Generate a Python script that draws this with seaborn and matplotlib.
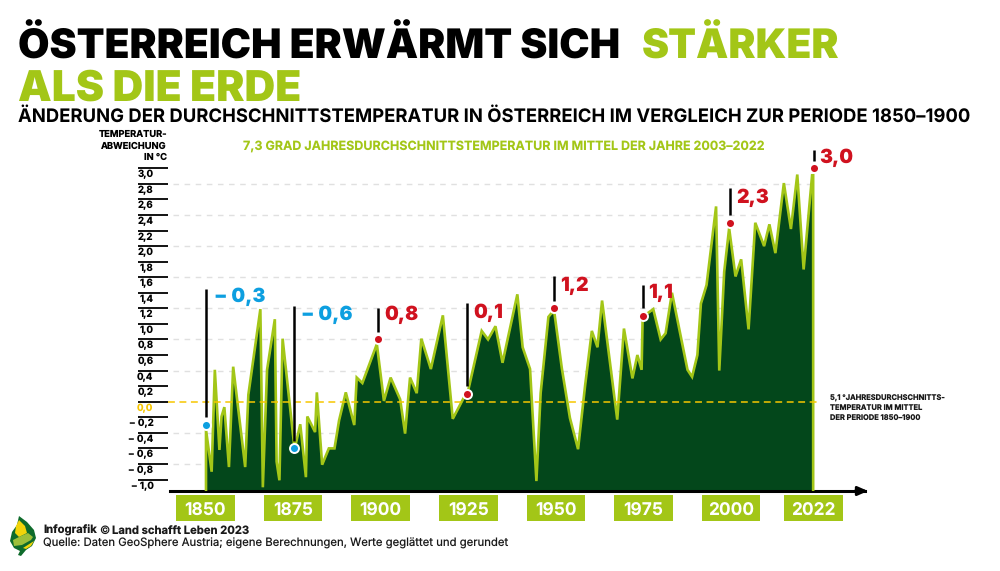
"""
plot.py
Oesterreich warming chart, temperature deviation against 1850-1900.
"""

import matplotlib.pyplot as plt
from matplotlib.patches import Polygon, Rectangle
from matplotlib.transforms import ScaledTranslation
import seaborn as sns

# Temperature curve. The original curve is not spaced
# evenly in years, so the positions are fractional years.
curve_years = [
    1850.0, 1851.6, 1852.5, 1853.8, 1854.4, 1855.2, 1856.5, 1857.7, 1861.1, 1862.0,
    1865.4, 1866.1, 1867.3, 1869.5, 1870.0, 1870.8, 1871.7, 1874.9, 1875.4, 1876.7,
    1878.3, 1878.7, 1880.9, 1881.4, 1882.9, 1884.8, 1886.4, 1887.7, 1889.6, 1892.0,
    1892.7, 1894.3, 1898.4, 1900.4, 1902.3, 1905.0, 1906.4, 1907.8, 1909.7, 1911.0,
    1913.7, 1917.1, 1919.9, 1922.9, 1924.3, 1928.1, 1929.9, 1932.0, 1934.0, 1938.2,
    1939.7, 1941.8, 1943.6, 1944.8, 1947.0, 1947.9, 1948.7, 1950.8, 1953.1, 1955.4,
    1957.4, 1959.3, 1960.9, 1962.2, 1966.5, 1968.4, 1970.8, 1972.2, 1973.4, 1973.7,
    1976.7, 1978.8, 1980.2, 1982.0, 1986.4, 1987.7, 1989.2, 1990.2, 1991.8, 1994.5,
    1995.4, 1996.8, 1998.2, 2000.0, 2001.6, 2003.7, 2005.6, 2008.1, 2009.6, 2011.3,
    2013.7, 2015.7, 2017.5, 2019.3, 2021.7, 2022.0,
]
curve_values = [
    -0.36, -0.90, 0.41, -0.62, -0.19, -0.07, -0.84, 0.45, -0.84, 0.09,
    1.19, -1.10, 0.41, 1.06, -0.77, -1.01, 0.81, -0.53, -0.55, -0.29,
    -0.97, -0.19, -0.39, 0.12, -0.81, -0.60, -0.60, -0.24, 0.12, -0.30,
    0.31, 0.24, 0.74, 0.01, 0.31, 0.03, -0.41, 0.31, 0.11, 0.81,
    0.42, 1.11, -0.22, 0.04, 0.15, 0.91, 0.80, 0.97, 0.50, 1.38,
    0.70, 0.42, -1.02, 0.11, 1.09, 1.14, 1.14, 0.43, -0.21, -0.61,
    0.21, 0.91, 0.70, 1.30, -0.23, 0.94, 0.30, 0.60, 0.41, 1.09,
    1.19, 0.80, 0.88, 1.40, 0.41, 0.32, 0.60, 1.26, 1.50, 2.51,
    0.40, 1.67, 2.23, 1.61, 1.83, 0.93, 2.30, 2.00, 2.28, 1.91,
    2.81, 2.22, 2.92, 1.70, 2.91, 2.91,
]

# Highlighted years
marker_years = [1850, 1875, 1898.7, 1923.9, 1948.6, 1973.8, 1998.4, 2022.1]
marker_values = [-0.3, -0.6, 0.8, 0.1, 1.2, 1.1, 2.3, 3.0]
stem_tops = [1.45, 1.23, 1.21, 1.27, 1.61, 1.50, 2.75, 3.23]

box_years = [1849.8, 1874.7, 1899.5, 1924.3, 1949.1, 1973.9, 1998.7, 2022.1]
box_labels = ["1850", "1875", "1900", "1925", "1950", "1975", "2000", "2022"]

y_ticks = [-1.0, -0.8, -0.6, -0.4, -0.2, 0.0, 0.2, 0.4, 0.6, 0.8, 1.0,
           1.2, 1.4, 1.6, 1.8, 2.0, 2.2, 2.4, 2.6, 2.8, 3.0]
grid_levels = [-0.8, -0.4, 0.4, 0.8, 1.2, 1.6, 2.0, 2.4, 2.8]

GREEN = "#a3c617"
DARK = "#03471b"
RED = "#d0121f"
BLUE = "#0d9fe0"
YELLOW = "#f7c600"
FONT = "Inter"

X0, Y0 = 206, 401.7    # pixel of 1850 / 0.0
X_SCALE, Y_SCALE = 3.53, 77.8    # pixels per year / per degree


def fmt(value):
    text = f"{abs(value):.1f}".replace(".", ",")
    return f"− {text}" if value < 0 else text


sns.set_theme(style="white")
plt.rcParams["font.family"] = [FONT, "DejaVu Sans"]
plt.rcParams["text.hinting"] = "no_hinting"
plt.rcParams["text.hinting_factor"] = 1

fig = plt.figure(figsize=(10, 5.71), dpi=100)

# overlay in pixels for the free text and the logo
page = fig.add_axes([0, 0, 1, 1], zorder=5)
page.set_xlim(0, 1000)
page.set_ylim(571, 0)
page.axis("off")

# main axes, placed so that the pixel scale above holds
left, right, top, bottom = 168, 865, 150, 491
ax = fig.add_axes([left / 1000, 1 - bottom / 571, (right - left) / 1000, (bottom - top) / 571])
ax.set_xlim(1850 + (left - X0) / X_SCALE, 1850 + (right - X0) / X_SCALE)
ax.set_ylim((Y0 - bottom) / Y_SCALE, (Y0 - top) / Y_SCALE)
y_floor = ax.get_ylim()[0]

ax.hlines(grid_levels, 1840.6, 2023.2, color="#e0e0e0", lw=1, linestyles=(0, (4, 4)), zorder=1)

ax.fill_between(curve_years, curve_values, y_floor, color=DARK, lw=0, zorder=2)
line_x = [curve_years[0]] + curve_years + [curve_years[-1]]
line_y = [y_floor] + curve_values + [y_floor]
sns.lineplot(x=line_x, y=line_y, sort=False, estimator=None, color=GREEN, lw=1.9, ax=ax,
             zorder=3, solid_joinstyle="miter")

# zero line
ax.hlines(0, ax.get_xlim()[0], 2023.4, color=YELLOW, lw=1.1, linestyles=(0, (4.5, 3)), zorder=4)

# ticks: long black dashes with the label hanging under them
for side in ["top", "right", "left"]:
    ax.spines[side].set_visible(False)
ax.spines["bottom"].set_linewidth(2.2)
ax.spines["bottom"].set_color("black")
ax.spines["bottom"].set_bounds(1839.9, ax.get_xlim()[1])
ax.set_xticks([])
ax.set_yticks(y_ticks, [fmt(t) for t in y_ticks], fontsize=7, fontweight="bold", va="top")
ax.tick_params(axis="y", left=True, length=21.5, width=1.3, color="black", pad=-11, labelcolor="black")
label_shift = ScaledTranslation(0, -1.3 / 72, fig.dpi_scale_trans)
for tick, value in zip(ax.yaxis.get_major_ticks(), y_ticks):
    tick.label1.set_transform(tick.label1.get_transform() + label_shift)
    if value == 0:
        tick.tick1line.set_color(YELLOW)
        tick.label1.set_color(YELLOW)

ax.annotate("", xy=(right + 3, bottom), xytext=(right - 10, bottom), xycoords=page.transData,
            textcoords=page.transData,
            arrowprops=dict(arrowstyle="-|>,head_width=0.22,head_length=0.5", color="black", lw=2,
                            shrinkA=0, shrinkB=0), annotation_clip=False)

# stems, points and values
label_spots = [(214, 297), (301, 315), (384, 315), (473, 313), (560, 286), (648, 293), (736, 198), (819, 158)]
for year, value, stem_top, spot in zip(marker_years, marker_values, stem_tops, label_spots):
    colour = BLUE if value < 0 else RED
    ax.vlines(year, value + 0.1, stem_top, color="black", lw=1.8, zorder=5)
    ax.scatter([year], [value], s=42, color=colour, edgecolor="white", linewidth=1.4, zorder=6, clip_on=False)
    page.text(spot[0], spot[1], fmt(value), color=colour, fontsize=14, fontweight="black", va="center")

# year boxes under the axis
box_w = 58.5 / X_SCALE
box_top = (Y0 - 495) / Y_SCALE
box_h = 26 / Y_SCALE
for year, label in zip(box_years, box_labels):
    ax.add_patch(Rectangle((year - box_w / 2, box_top - box_h), box_w, box_h, color=GREEN, lw=0, clip_on=False))
    ax.text(year, box_top - box_h / 2, label, color="white", fontsize=12.5, fontweight="bold",
            ha="center", va="center_baseline", clip_on=False)

# headline
page.text(18, 59, "ÖSTERREICH ERWÄRMT SICH", fontsize=29.3, fontweight="black", color="black", va="baseline")
page.text(642, 59, "STÄRKER", fontsize=29.3, fontweight="black", color=GREEN, va="baseline")
page.text(18, 100.7, "ALS DIE ERDE", fontsize=30.6, fontweight="black", color=GREEN, va="baseline")
page.text(18, 121.7, "ÄNDERUNG DER DURCHSCHNITTSTEMPERATUR IN ÖSTERREICH IM VERGLEICH ZUR PERIODE 1850–1900",
          fontsize=13.3, fontweight="bold", color="black", va="baseline")
page.text(243, 146, "7,3 GRAD JAHRESDURCHSCHNITTSTEMPERATUR IM MITTEL DER JAHRE 2003–2022",
          fontsize=9, fontweight="bold", color=GREEN, va="center")

page.text(167, 146, "TEMPERATUR-\nABWEICHUNG\nIN °C", fontsize=6.7, fontweight="bold", color="black",
          ha="right", va="center", linespacing=1.35)
page.text(830, 408, "5,1 °JAHRESDURCHSCHNITTS-\nTEMPERATUR IM MITTEL\nDER PERIODE 1850–1900", fontsize=5.4,
          fontweight="bold", color="#1a1a1a", va="center", linespacing=1.35)

# footer
page.text(43, 530.5, "Infografik", fontsize=8.1, fontweight="bold", color="#1a1a1a", va="center")
page.text(99, 530.5, "©", fontsize=8.1, color="#1a1a1a", va="center")
page.text(112, 530.5, "Land schafft Leben 2023", fontsize=8.1, fontweight="bold", color="#1a1a1a", va="center")
page.text(43, 543, "Quelle: Daten GeoSphere Austria; eigene Berechnungen, Werte geglättet und gerundet",
          fontsize=8.17, color="#1a1a1a", va="center")

# leaf logo
page.add_patch(Polygon([(19, 516), (27, 522), (34, 530), (36, 538), (32, 546), (26, 550), (21, 556), (18, 555),
                        (20, 551), (14, 548), (10, 541), (12, 532), (17, 525)], closed=True, color="#0e6b2b", lw=0))
page.add_patch(Polygon([(19, 520), (25, 526), (27, 533), (19, 537), (15, 533), (16, 526)], closed=True,
                       color="#f2d40a", lw=0))
page.add_patch(Polygon([(13, 540), (21, 536), (28, 533), (33, 537), (31, 540), (22, 545), (14, 546)], closed=True,
                       color="#9dbf3a", lw=0))
page.add_patch(Polygon([(23, 548), (34, 541), (31, 546), (26, 549)], closed=True, color="#f2d40a", lw=0))

plt.savefig("out.png", dpi=100)
